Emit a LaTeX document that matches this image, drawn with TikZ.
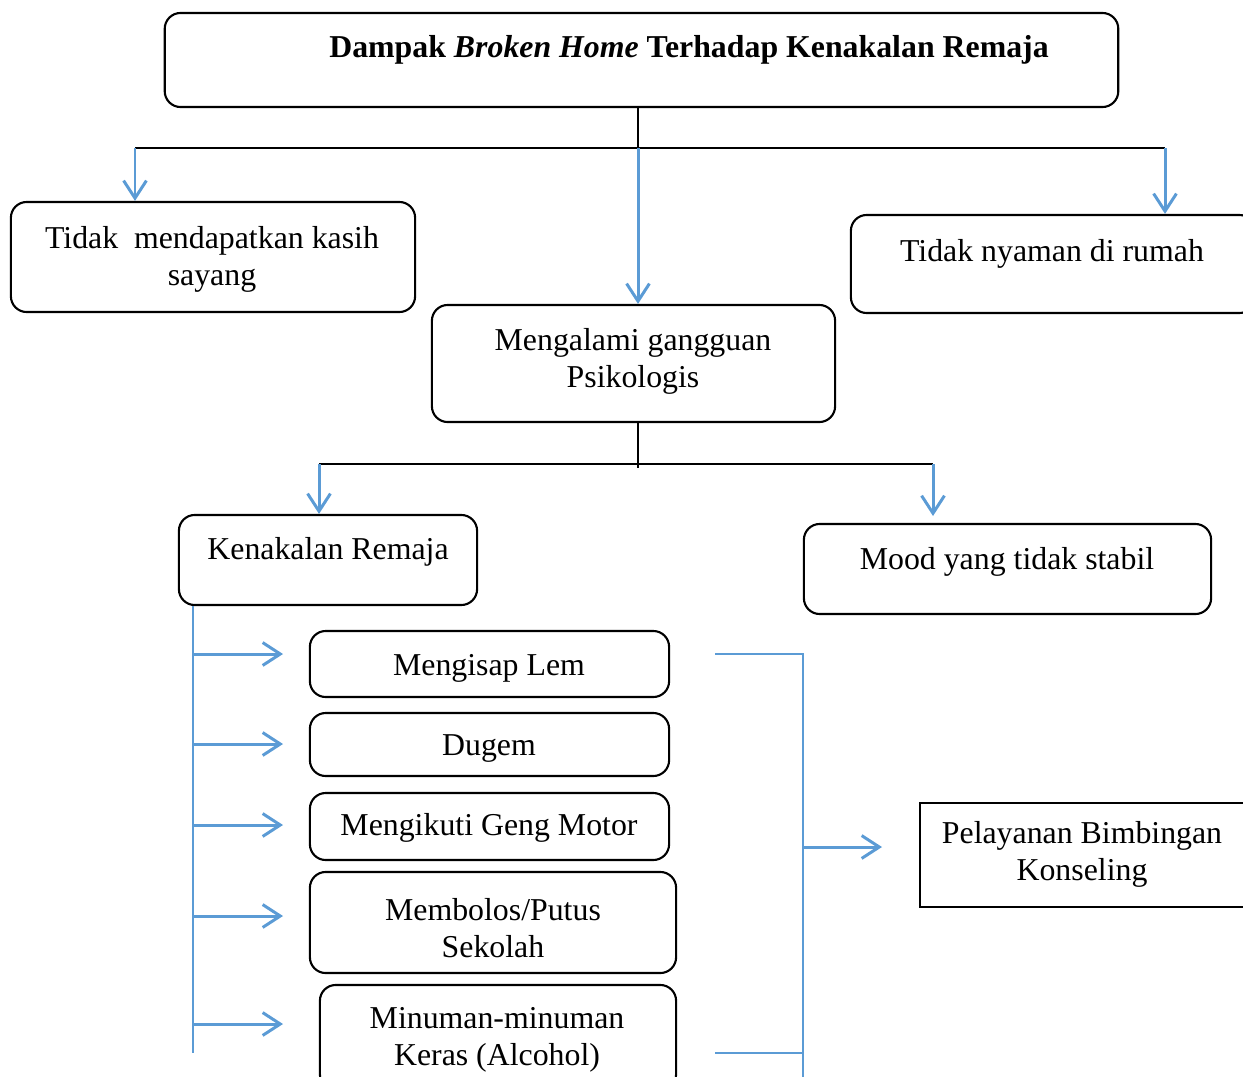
\documentclass[tikz,border=0pt]{standalone}
\usepackage{fontspec}
\setmainfont{Liberation Serif}
\usetikzlibrary{arrows.meta}
\definecolor{wordblue}{RGB}{91,155,213}
\tikzset{
  box/.style={
    draw,
    line width=0.6pt,
    rounded corners=4.5pt,
    inner sep=0pt
  },
  plain box/.style={
    draw,
    line width=0.6pt,
    inner sep=0pt
  },
  box text/.style={
    align=center,
    inner sep=0pt,
    yshift=-0.9pt,
    font=\fontsize{9.05}{10.5}\selectfont
  },
  trunk/.style={
    line width=0.6pt
  },
  branch/.style={
    -{Straight Barb[length=5pt, width=6.5pt]},
    line width=0.85pt,
    color=wordblue
  },
  bracket/.style={
    line width=0.4pt,
    color=wordblue
  }
}

\begin{document}
\begin{tikzpicture}[x=0.01cm, y=-0.01cm]
    \clip (0,0) rectangle (1243,1076);

    % judul
    \node[box, minimum width=9.53cm, minimum height=0.94cm] (title) at (641.5,60) {};
    \node[box text, font=\fontsize{9.05}{10.5}\selectfont\bfseries] (title txt) at (689,47)
      {Dampak \textit{Broken Home} Terhadap Kenakalan Remaja};

    % tingkat pertama
    \node[box, minimum width=4.04cm, minimum height=1.10cm] (kasih) at (213,257) {};
    \node[box text] (kasih txt) at (212,256.5) {Tidak\ \ mendapatkan kasih\\sayang};

    \node[box, minimum width=4.04cm, minimum height=0.98cm] (nyaman) at (1053,264) {};
    \node[box text] (nyaman txt) at (1052,251) {Tidak nyaman di rumah};

    \node[box, minimum width=4.03cm, minimum height=1.17cm] (psiko) at (633.5,363.5) {};
    \node[box text] (psiko txt) at (633,358.5) {Mengalami gangguan\\Psikologis};

    % tingkat kedua
    \node[box, minimum width=2.98cm, minimum height=0.90cm] (nakal) at (328,560) {};
    \node[box text] (nakal txt) at (328,549) {Kenakalan Remaja};

    \node[box, minimum width=4.07cm, minimum height=0.90cm] (mood) at (1007.5,569) {};
    \node[box text] (mood txt) at (1007,559) {Mood yang tidak stabil};

    % bentuk kenakalan
    \node[box, minimum width=3.59cm, minimum height=0.66cm] (lem) at (489.5,664) {};
    \node[box text] (lem txt) at (489,665) {Mengisap Lem};

    \node[box, minimum width=3.59cm, minimum height=0.63cm] (dugem) at (489.5,744.5) {};
    \node[box text] (dugem txt) at (489,745) {Dugem};

    \node[box, minimum width=3.59cm, minimum height=0.67cm] (geng) at (489.5,826.5) {};
    \node[box text] (geng txt) at (489,825) {Mengikuti Geng Motor};

    \node[box, minimum width=3.66cm, minimum height=1.01cm] (bolos) at (493,922.5) {};
    \node[box text] (bolos txt) at (493,924.5) {Membolos/Putus\\Sekolah};

    \node[box, minimum width=3.56cm, minimum height=1.05cm] (alkohol) at (498,1037.5) {};
    \node[box text] (alkohol txt) at (497,1037) {Minuman-minuman\\Keras (Alcohol)};

    \node[plain box, minimum width=3.40cm, minimum height=1.04cm] (layanan) at (1090,855) {};
    \node[box text] (layanan txt) at (1082,851.5) {Pelayanan Bimbingan\\Konseling};

    % garis cabang atas
    \coordinate (top hub) at (638,148);
    \coordinate (left drop) at (135,148);
    \coordinate (right drop) at (1165,148);
    \draw[trunk] (title.south -| top hub) -- (top hub);
    \draw[trunk] (left drop) -- (right drop);
    \draw[branch] (left drop) -- (left drop |- kasih.north);
    \draw[branch] (top hub) -- (top hub |- psiko.north);
    \draw[branch] (right drop) -- (right drop |- nyaman.north);

    % garis cabang tengah
    \coordinate (mid hub) at (638,464);
    \coordinate (mid left) at (319,464);
    \coordinate (mid right) at (933,464);
    \draw[trunk] (psiko.south -| mid hub) -- ++(0,45);
    \draw[trunk] (mid left) -- (mid right);
    \draw[branch] (mid left) -- (mid left |- nakal.north);
    \draw[branch] (mid right) -- ++(0,52);

    % garis kenakalan
    \coordinate (spine) at (193,1053);
    \draw[bracket] (nakal.south -| spine) -- (spine);
    \foreach \y in {654,744,825,916,1024} {
      \draw[branch] (spine |- 0,\y) -- (283,\y);
    }

    % kurung kanan
    \coordinate (brace top) at (803,654);
    \coordinate (brace low) at (803,1053);
    \coordinate (brace mid) at (803,847);
    \draw[bracket] (715,654) -- (brace top) -- (803,1090);
    \draw[bracket] (715,1053) -- (brace low);
    \draw[branch] (brace mid) -- (882,847);

  \end{tikzpicture}
\end{document}
